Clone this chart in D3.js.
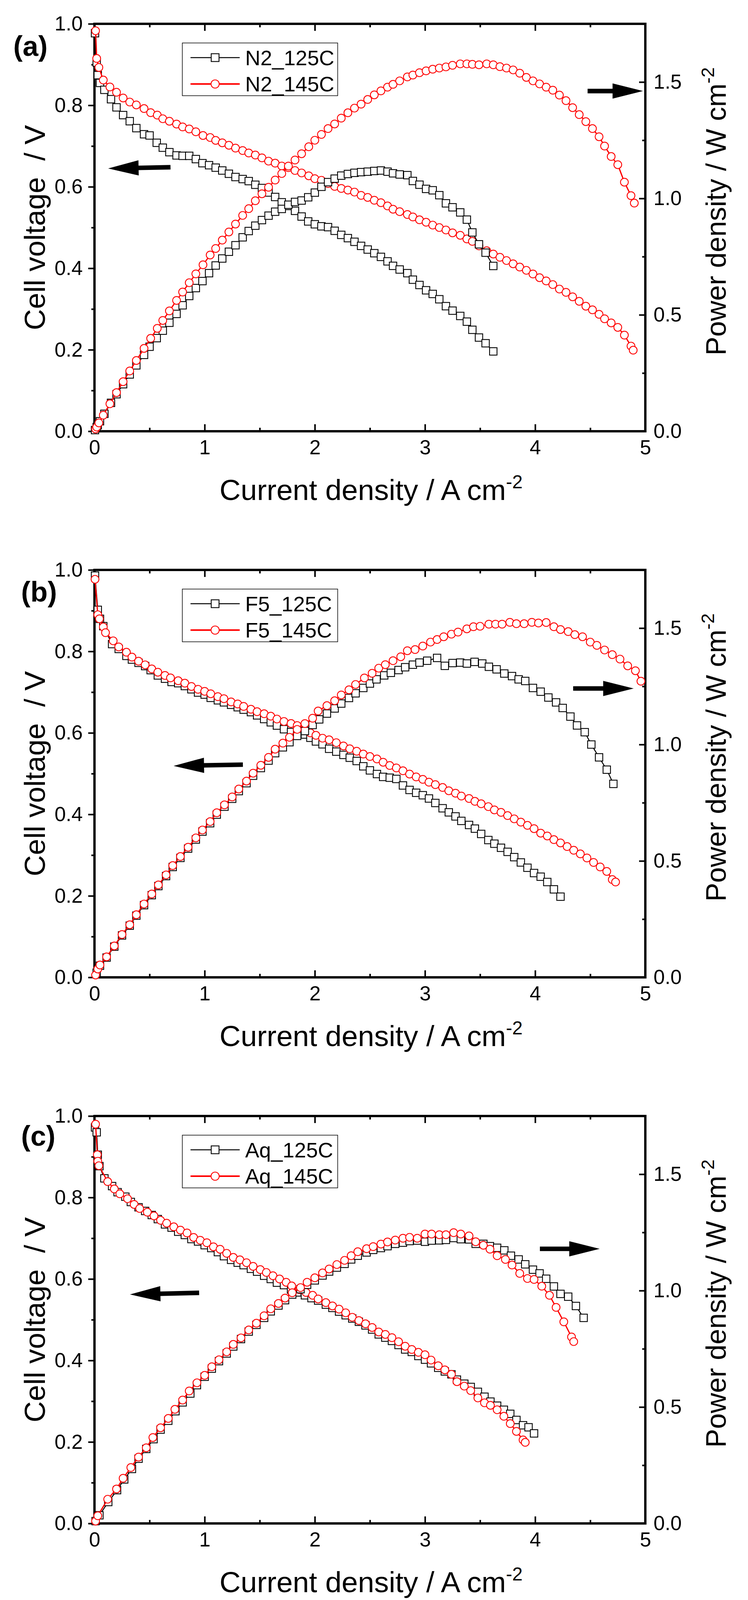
<!DOCTYPE html>
<html><head><meta charset="utf-8">
<script src="https://cdn.jsdelivr.net/npm/d3@7"></script>
<style>
html,body{margin:0;padding:0;background:#fff;}
text{font-family:"Liberation Sans",Arial,Helvetica,sans-serif;}
</style></head>
<body>
<svg id="chart" width="1916" height="4141"></svg>
<script>
// ---------------- DATA ----------------
const xTicks = [0, 1, 2, 3, 4, 5];
const xMinorTicks = [0.5, 1.5, 2.5, 3.5, 4.5];
const vTicks = [0.0, 0.2, 0.4, 0.6, 0.8, 1.0];
const vMinorTicks = [0.1, 0.3, 0.5, 0.7, 0.9];
const pTicks = [0.0, 0.5, 1.0, 1.5];
const pMinorTicks = [0.25, 0.75, 1.25];
const panelLabels = ["(a)", "(b)", "(c)"];
const seriesNamesA = ["N2_125C", "N2_145C"];
const seriesNamesB = ["F5_125C", "F5_145C"];
const seriesNamesC = ["Aq_125C", "Aq_145C"];
const xTitle = "Current density / A cm";
const vTitle = "Cell voltage  / V";
const pTitle = "Power density / W cm";

// panel (a)  [current density, cell voltage]  /  [current density, power density]
const N2_125C_V = [[0.005,0.977],[0.02,0.905],[0.03,0.874],[0.05,0.855],[0.09,0.838],[0.15,0.815],[0.20,0.795],[0.26,0.776],[0.32,0.761],[0.38,0.744],[0.45,0.729],[0.50,0.726],[0.565,0.708],[0.62,0.696],[0.68,0.685],[0.745,0.677],[0.80,0.676],[0.86,0.676],[0.92,0.668],[0.98,0.658],[1.04,0.653],[1.10,0.647],[1.16,0.640],[1.22,0.632],[1.28,0.624],[1.345,0.619],[1.40,0.614],[1.46,0.605],[1.52,0.597],[1.58,0.586],[1.64,0.575],[1.70,0.562],[1.76,0.553],[1.82,0.541],[1.88,0.527],[1.94,0.515],[2.00,0.508],[2.06,0.503],[2.12,0.501],[2.18,0.492],[2.24,0.482],[2.30,0.474],[2.36,0.465],[2.42,0.455],[2.48,0.446],[2.54,0.437],[2.60,0.428],[2.66,0.417],[2.71,0.406],[2.77,0.397],[2.84,0.388],[2.89,0.372],[2.95,0.359],[3.01,0.346],[3.07,0.337],[3.13,0.324],[3.19,0.307],[3.25,0.296],[3.32,0.283],[3.38,0.269],[3.43,0.249],[3.49,0.230],[3.55,0.216],[3.62,0.196]];
const N2_125C_P = [[0.005,0.005],[0.02,0.018],[0.03,0.026],[0.05,0.043],[0.09,0.075],[0.15,0.122],[0.20,0.159],[0.26,0.202],[0.32,0.244],[0.38,0.283],[0.45,0.328],[0.50,0.363],[0.565,0.400],[0.62,0.432],[0.68,0.466],[0.745,0.504],[0.80,0.541],[0.86,0.581],[0.92,0.615],[0.98,0.645],[1.04,0.679],[1.10,0.712],[1.16,0.742],[1.22,0.771],[1.28,0.799],[1.345,0.833],[1.40,0.860],[1.46,0.883],[1.52,0.907],[1.58,0.926],[1.64,0.943],[1.70,0.955],[1.76,0.973],[1.82,0.985],[1.88,0.991],[1.94,1.005],[2.00,1.025],[2.06,1.050],[2.12,1.070],[2.18,1.085],[2.24,1.098],[2.30,1.105],[2.36,1.110],[2.42,1.113],[2.48,1.115],[2.54,1.118],[2.60,1.120],[2.66,1.115],[2.71,1.108],[2.77,1.103],[2.84,1.100],[2.89,1.075],[2.95,1.059],[3.01,1.041],[3.07,1.035],[3.13,1.014],[3.19,0.979],[3.25,0.962],[3.32,0.940],[3.38,0.909],[3.43,0.854],[3.49,0.803],[3.55,0.767],[3.62,0.710]];
const N2_145C_V = [[0.01,0.983],[0.02,0.915],[0.04,0.893],[0.08,0.862],[0.14,0.845],[0.20,0.832],[0.26,0.818],[0.32,0.808],[0.38,0.801],[0.45,0.792],[0.51,0.782],[0.57,0.776],[0.62,0.767],[0.68,0.761],[0.745,0.754],[0.80,0.747],[0.86,0.742],[0.92,0.735],[0.985,0.726],[1.05,0.721],[1.10,0.714],[1.16,0.708],[1.22,0.702],[1.28,0.695],[1.345,0.689],[1.40,0.683],[1.46,0.678],[1.52,0.671],[1.58,0.663],[1.64,0.658],[1.70,0.651],[1.76,0.647],[1.82,0.640],[1.88,0.634],[1.945,0.627],[2.00,0.620],[2.06,0.616],[2.12,0.608],[2.18,0.601],[2.24,0.596],[2.30,0.592],[2.36,0.587],[2.42,0.579],[2.48,0.574],[2.54,0.567],[2.60,0.561],[2.66,0.553],[2.71,0.545],[2.77,0.539],[2.84,0.532],[2.89,0.526],[2.95,0.519],[3.01,0.513],[3.07,0.506],[3.13,0.500],[3.19,0.494],[3.25,0.487],[3.32,0.481],[3.38,0.472],[3.43,0.466],[3.49,0.455],[3.56,0.443],[3.62,0.435],[3.68,0.427],[3.74,0.419],[3.80,0.411],[3.86,0.403],[3.92,0.395],[3.98,0.386],[4.04,0.377],[4.10,0.369],[4.16,0.360],[4.22,0.349],[4.28,0.341],[4.34,0.330],[4.40,0.319],[4.46,0.307],[4.52,0.298],[4.58,0.287],[4.63,0.276],[4.69,0.266],[4.75,0.255],[4.81,0.236],[4.87,0.209],[4.89,0.199]];
const N2_145C_P = [[0.01,0.010],[0.02,0.018],[0.04,0.036],[0.08,0.069],[0.14,0.118],[0.20,0.166],[0.26,0.213],[0.32,0.259],[0.38,0.304],[0.45,0.356],[0.51,0.399],[0.57,0.442],[0.62,0.476],[0.68,0.517],[0.745,0.562],[0.80,0.598],[0.86,0.638],[0.92,0.676],[0.985,0.715],[1.05,0.757],[1.10,0.785],[1.16,0.821],[1.22,0.856],[1.28,0.890],[1.345,0.927],[1.40,0.956],[1.46,0.990],[1.52,1.020],[1.58,1.048],[1.64,1.079],[1.70,1.107],[1.76,1.139],[1.82,1.165],[1.88,1.192],[1.945,1.222],[2.00,1.250],[2.06,1.275],[2.12,1.300],[2.18,1.320],[2.24,1.345],[2.30,1.368],[2.36,1.388],[2.42,1.405],[2.48,1.425],[2.54,1.445],[2.60,1.462],[2.66,1.478],[2.71,1.490],[2.77,1.505],[2.84,1.522],[2.89,1.530],[2.95,1.540],[3.01,1.548],[3.07,1.555],[3.13,1.560],[3.19,1.565],[3.25,1.572],[3.32,1.578],[3.38,1.578],[3.43,1.576],[3.49,1.574],[3.56,1.578],[3.62,1.574],[3.68,1.566],[3.74,1.560],[3.80,1.552],[3.86,1.538],[3.92,1.520],[3.98,1.505],[4.04,1.492],[4.10,1.478],[4.16,1.465],[4.22,1.444],[4.28,1.420],[4.34,1.390],[4.40,1.360],[4.46,1.330],[4.52,1.300],[4.58,1.265],[4.63,1.225],[4.69,1.180],[4.75,1.145],[4.81,1.070],[4.87,1.012],[4.90,0.980]];

// panel (b)
const F5_125C_V = [[0.005,0.986],[0.03,0.902],[0.05,0.880],[0.08,0.862],[0.16,0.818],[0.22,0.806],[0.29,0.789],[0.34,0.780],[0.40,0.772],[0.46,0.764],[0.51,0.754],[0.575,0.741],[0.64,0.733],[0.70,0.725],[0.76,0.722],[0.82,0.715],[0.88,0.707],[0.94,0.699],[1.00,0.694],[1.055,0.686],[1.12,0.680],[1.175,0.675],[1.24,0.669],[1.30,0.663],[1.354,0.657],[1.42,0.651],[1.476,0.643],[1.54,0.634],[1.60,0.626],[1.656,0.618],[1.72,0.609],[1.784,0.602],[1.84,0.600],[1.91,0.596],[1.96,0.588],[2.01,0.579],[2.07,0.572],[2.13,0.561],[2.195,0.554],[2.26,0.546],[2.317,0.539],[2.38,0.531],[2.44,0.518],[2.50,0.508],[2.564,0.499],[2.62,0.492],[2.68,0.490],[2.74,0.487],[2.80,0.471],[2.86,0.460],[2.92,0.453],[2.98,0.447],[3.036,0.439],[3.094,0.428],[3.16,0.415],[3.216,0.405],[3.277,0.395],[3.33,0.384],[3.40,0.374],[3.453,0.365],[3.51,0.352],[3.575,0.337],[3.63,0.328],[3.69,0.318],[3.75,0.308],[3.81,0.295],[3.87,0.282],[3.93,0.269],[3.99,0.256],[4.05,0.247],[4.11,0.234],[4.17,0.216],[4.23,0.198]];
const F5_125C_P = [[0.02,0.020],[0.05,0.050],[0.11,0.085],[0.18,0.132],[0.25,0.180],[0.32,0.222],[0.38,0.265],[0.45,0.310],[0.52,0.353],[0.58,0.392],[0.65,0.435],[0.71,0.474],[0.78,0.513],[0.85,0.553],[0.92,0.592],[0.98,0.626],[1.05,0.662],[1.11,0.699],[1.18,0.733],[1.25,0.767],[1.31,0.800],[1.38,0.834],[1.44,0.866],[1.51,0.899],[1.58,0.931],[1.64,0.963],[1.71,0.988],[1.77,1.010],[1.84,1.037],[1.91,1.058],[1.98,1.084],[2.04,1.108],[2.11,1.133],[2.18,1.155],[2.24,1.176],[2.31,1.200],[2.37,1.220],[2.44,1.243],[2.50,1.262],[2.56,1.280],[2.63,1.297],[2.69,1.308],[2.76,1.320],[2.82,1.332],[2.89,1.343],[2.95,1.352],[3.02,1.360],[3.11,1.372],[3.18,1.338],[3.25,1.350],[3.32,1.352],[3.38,1.348],[3.45,1.355],[3.52,1.348],[3.58,1.334],[3.65,1.323],[3.72,1.305],[3.79,1.294],[3.85,1.280],[3.91,1.273],[3.98,1.243],[4.05,1.227],[4.12,1.202],[4.19,1.181],[4.25,1.157],[4.32,1.120],[4.38,1.082],[4.45,1.053],[4.51,1.000],[4.58,0.945],[4.65,0.892],[4.71,0.831]];
const F5_145C_V = [[0.005,0.977],[0.03,0.890],[0.045,0.880],[0.08,0.860],[0.10,0.846],[0.17,0.826],[0.22,0.811],[0.29,0.798],[0.34,0.786],[0.40,0.776],[0.46,0.767],[0.52,0.757],[0.575,0.749],[0.64,0.741],[0.69,0.735],[0.76,0.728],[0.82,0.722],[0.88,0.714],[0.94,0.707],[1.00,0.702],[1.055,0.696],[1.12,0.689],[1.175,0.684],[1.24,0.676],[1.30,0.671],[1.354,0.665],[1.42,0.658],[1.476,0.652],[1.54,0.647],[1.60,0.641],[1.656,0.634],[1.72,0.628],[1.784,0.623],[1.84,0.618],[1.90,0.612],[1.96,0.600],[2.01,0.594],[2.07,0.587],[2.13,0.583],[2.195,0.576],[2.26,0.568],[2.317,0.561],[2.38,0.555],[2.44,0.548],[2.50,0.542],[2.564,0.536],[2.62,0.528],[2.68,0.520],[2.74,0.514],[2.80,0.507],[2.86,0.499],[2.92,0.492],[2.98,0.486],[3.036,0.479],[3.094,0.473],[3.16,0.466],[3.216,0.458],[3.277,0.452],[3.33,0.445],[3.40,0.439],[3.453,0.432],[3.51,0.426],[3.575,0.419],[3.63,0.411],[3.69,0.405],[3.75,0.397],[3.81,0.389],[3.87,0.381],[3.93,0.373],[3.99,0.365],[4.05,0.354],[4.11,0.347],[4.17,0.338],[4.23,0.330],[4.29,0.321],[4.35,0.312],[4.41,0.303],[4.47,0.293],[4.53,0.282],[4.59,0.271],[4.65,0.260],[4.70,0.240],[4.73,0.234]];
const F5_145C_P = [[0.01,0.010],[0.03,0.036],[0.05,0.053],[0.11,0.088],[0.18,0.135],[0.25,0.184],[0.32,0.226],[0.38,0.269],[0.45,0.315],[0.52,0.358],[0.58,0.397],[0.65,0.440],[0.71,0.480],[0.78,0.519],[0.85,0.559],[0.92,0.599],[0.98,0.633],[1.05,0.669],[1.11,0.707],[1.18,0.741],[1.25,0.775],[1.31,0.809],[1.38,0.843],[1.44,0.877],[1.51,0.911],[1.58,0.945],[1.64,0.980],[1.71,1.006],[1.77,1.031],[1.84,1.065],[1.91,1.090],[1.98,1.113],[2.03,1.144],[2.11,1.167],[2.18,1.188],[2.24,1.213],[2.31,1.235],[2.37,1.258],[2.45,1.286],[2.52,1.306],[2.58,1.328],[2.64,1.343],[2.71,1.360],[2.78,1.377],[2.84,1.403],[2.91,1.408],[2.98,1.423],[3.05,1.440],[3.11,1.451],[3.17,1.463],[3.24,1.474],[3.30,1.483],[3.38,1.497],[3.44,1.506],[3.50,1.508],[3.58,1.517],[3.64,1.517],[3.70,1.517],[3.77,1.525],[3.83,1.519],[3.90,1.519],[3.97,1.525],[4.03,1.522],[4.10,1.524],[4.17,1.506],[4.23,1.494],[4.30,1.485],[4.36,1.472],[4.43,1.463],[4.50,1.440],[4.56,1.426],[4.63,1.406],[4.70,1.386],[4.77,1.367],[4.84,1.338],[4.91,1.317],[4.96,1.272]];

// panel (c)
const Aq_125C_V = [[0.005,0.972],[0.02,0.960],[0.03,0.905],[0.045,0.877],[0.09,0.847],[0.16,0.828],[0.21,0.813],[0.28,0.802],[0.33,0.789],[0.40,0.776],[0.46,0.767],[0.52,0.757],[0.575,0.747],[0.64,0.734],[0.70,0.726],[0.76,0.716],[0.82,0.708],[0.88,0.698],[0.94,0.692],[1.00,0.683],[1.06,0.676],[1.12,0.666],[1.175,0.656],[1.24,0.647],[1.30,0.640],[1.354,0.634],[1.42,0.625],[1.476,0.618],[1.54,0.608],[1.60,0.600],[1.656,0.591],[1.72,0.585],[1.784,0.574],[1.84,0.567],[1.91,0.560],[1.97,0.553],[2.03,0.547],[2.10,0.537],[2.16,0.529],[2.22,0.520],[2.28,0.511],[2.34,0.503],[2.40,0.495],[2.46,0.486],[2.52,0.476],[2.58,0.464],[2.64,0.456],[2.70,0.448],[2.76,0.438],[2.82,0.427],[2.88,0.421],[2.94,0.411],[3.00,0.402],[3.055,0.393],[3.12,0.382],[3.18,0.373],[3.24,0.366],[3.29,0.353],[3.357,0.343],[3.415,0.335],[3.48,0.323],[3.54,0.311],[3.594,0.299],[3.655,0.289],[3.716,0.279],[3.774,0.269],[3.83,0.254],[3.89,0.241],[3.94,0.236],[3.99,0.221]];
const Aq_125C_P = [[0.01,0.010],[0.045,0.035],[0.125,0.092],[0.205,0.143],[0.27,0.189],[0.34,0.234],[0.40,0.278],[0.47,0.320],[0.536,0.362],[0.60,0.403],[0.67,0.441],[0.735,0.482],[0.80,0.520],[0.87,0.558],[0.93,0.594],[1.00,0.630],[1.065,0.665],[1.13,0.697],[1.20,0.730],[1.26,0.760],[1.33,0.792],[1.40,0.824],[1.47,0.853],[1.54,0.883],[1.60,0.911],[1.67,0.936],[1.73,0.959],[1.795,0.983],[1.87,1.006],[1.93,1.025],[2.00,1.044],[2.07,1.065],[2.13,1.082],[2.20,1.099],[2.27,1.115],[2.33,1.134],[2.39,1.150],[2.47,1.164],[2.53,1.175],[2.60,1.183],[2.66,1.191],[2.73,1.201],[2.80,1.206],[2.86,1.213],[2.93,1.215],[3.00,1.210],[3.06,1.215],[3.13,1.216],[3.19,1.218],[3.26,1.226],[3.325,1.221],[3.40,1.220],[3.46,1.201],[3.53,1.201],[3.59,1.191],[3.655,1.184],[3.72,1.173],[3.78,1.150],[3.85,1.134],[3.91,1.113],[3.98,1.090],[4.04,1.074],[4.10,1.051],[4.17,1.018],[4.23,0.986],[4.30,0.974],[4.37,0.934],[4.44,0.883]];
const Aq_145C_V = [[0.01,0.980],[0.026,0.905],[0.03,0.889],[0.04,0.878],[0.12,0.839],[0.18,0.821],[0.23,0.809],[0.30,0.797],[0.36,0.783],[0.41,0.773],[0.48,0.764],[0.54,0.755],[0.60,0.744],[0.655,0.737],[0.72,0.728],[0.78,0.720],[0.84,0.713],[0.90,0.702],[0.96,0.695],[1.02,0.689],[1.08,0.679],[1.14,0.673],[1.20,0.663],[1.26,0.653],[1.32,0.647],[1.38,0.640],[1.44,0.631],[1.505,0.623],[1.56,0.616],[1.62,0.608],[1.68,0.600],[1.74,0.592],[1.79,0.583],[1.86,0.574],[1.92,0.567],[1.98,0.560],[2.03,0.551],[2.10,0.542],[2.16,0.534],[2.22,0.526],[2.28,0.517],[2.34,0.506],[2.40,0.498],[2.46,0.490],[2.52,0.481],[2.58,0.470],[2.64,0.464],[2.70,0.456],[2.76,0.446],[2.82,0.435],[2.88,0.427],[2.94,0.420],[3.00,0.414],[3.055,0.401],[3.12,0.387],[3.18,0.377],[3.24,0.366],[3.29,0.348],[3.357,0.337],[3.415,0.326],[3.48,0.308],[3.54,0.296],[3.594,0.290],[3.655,0.279],[3.716,0.263],[3.774,0.245],[3.83,0.226],[3.89,0.205],[3.91,0.199]];
const Aq_145C_P = [[0.01,0.010],[0.03,0.033],[0.12,0.104],[0.20,0.148],[0.26,0.194],[0.33,0.240],[0.40,0.285],[0.47,0.325],[0.53,0.369],[0.60,0.411],[0.67,0.451],[0.73,0.490],[0.80,0.530],[0.86,0.569],[0.93,0.604],[1.00,0.636],[1.065,0.673],[1.13,0.703],[1.20,0.737],[1.26,0.769],[1.33,0.797],[1.40,0.831],[1.47,0.860],[1.54,0.892],[1.60,0.922],[1.67,0.945],[1.73,0.968],[1.795,0.991],[1.87,1.013],[1.93,1.036],[2.00,1.055],[2.07,1.076],[2.13,1.093],[2.20,1.112],[2.27,1.130],[2.33,1.150],[2.39,1.167],[2.47,1.180],[2.53,1.189],[2.60,1.200],[2.66,1.209],[2.73,1.217],[2.80,1.225],[2.86,1.229],[2.93,1.225],[3.00,1.243],[3.06,1.243],[3.13,1.240],[3.19,1.240],[3.26,1.249],[3.325,1.243],[3.40,1.235],[3.46,1.210],[3.53,1.195],[3.59,1.178],[3.655,1.150],[3.73,1.134],[3.79,1.110],[3.86,1.074],[3.93,1.052],[3.99,1.048],[4.06,1.019],[4.13,0.980],[4.19,0.928],[4.26,0.866],[4.33,0.801],[4.35,0.781]];

// ---------------- LAYOUT ----------------
const W = 1916, H = 4141;
const plotLeft = 242, plotRight = 1653, plotH = 1043;
const panelTops = [61, 1459, 2857];
const labelPos = [[34, 82], [54, 81], [54, 76]];
// arrow annotations in data units: [x tail, v tail, x tip, v tip]
const arrowsA = [[0.69, 0.648, 0.124, 0.645], [4.476, 0.835, 4.979, 0.835]];
const arrowsB = [[1.347, 0.522, 0.718, 0.519], [4.345, 0.709, 4.894, 0.709]];
const arrowsC = [[0.950, 0.566, 0.322, 0.562], [4.043, 0.674, 4.586, 0.674]];

const panels = [
  {names: seriesNamesA, s125V: N2_125C_V, s125P: N2_125C_P, s145V: N2_145C_V, s145P: N2_145C_P, arrows: arrowsA},
  {names: seriesNamesB, s125V: F5_125C_V, s125P: F5_125C_P, s145V: F5_145C_V, s145P: F5_145C_P, arrows: arrowsB},
  {names: seriesNamesC, s125V: Aq_125C_V, s125P: Aq_125C_P, s145V: Aq_145C_V, s145P: Aq_145C_P, arrows: arrowsC}
];

const BLACK = "#000000", RED = "#ff0000";
const svg = d3.select("#chart");
svg.append("rect").attr("width", W).attr("height", H).attr("fill", "#fff");

const x = d3.scaleLinear().domain([0, 5]).range([plotLeft, plotRight]);

function styleAxis(g, fs) {
  g.select(".domain").remove();
  g.selectAll(".tick line").attr("stroke", "#000").attr("stroke-width", 4);
  g.selectAll(".tick text").attr("fill", "#000").style("font-size", fs + "px")
    .style("font-family", '"Liberation Sans", Arial, sans-serif');
}

panels.forEach((p, i) => {
  const top = panelTops[i], bottom = top + plotH;
  const yV = d3.scaleLinear().domain([0, 1]).range([bottom, top]);
  const yP = d3.scaleLinear().domain([0, 1.75]).range([bottom, top]);
  const g = svg.append("g");

  // frame
  g.append("rect").attr("x", plotLeft).attr("y", top)
    .attr("width", plotRight - plotLeft).attr("height", plotH)
    .attr("fill", "none").attr("stroke", "#000").attr("stroke-width", 6);

  // bottom axis
  styleAxis(g.append("g").attr("transform", `translate(0,${bottom})`)
    .call(d3.axisBottom(x).tickValues(xTicks).tickSize(-18).tickPadding(22).tickFormat(d3.format("d"))), 52);
  styleAxis(g.append("g").attr("transform", `translate(0,${bottom})`)
    .call(d3.axisBottom(x).tickValues(xMinorTicks).tickSize(-9).tickFormat("")), 52);
  // top axis
  styleAxis(g.append("g").attr("transform", `translate(0,${top})`)
    .call(d3.axisTop(x).tickValues(xTicks.slice(1, 5)).tickSize(-18).tickFormat("")), 52);
  styleAxis(g.append("g").attr("transform", `translate(0,${top})`)
    .call(d3.axisTop(x).tickValues(xMinorTicks).tickSize(-9).tickFormat("")), 52);
  // left axis
  styleAxis(g.append("g").attr("transform", `translate(${plotLeft},0)`)
    .call(d3.axisLeft(yV).tickValues(vTicks).tickSize(16).tickPadding(14).tickFormat(d3.format(".1f"))), 52);
  styleAxis(g.append("g").attr("transform", `translate(${plotLeft},0)`)
    .call(d3.axisLeft(yV).tickValues(vMinorTicks).tickSize(8).tickFormat("")), 52);
  // right axis
  styleAxis(g.append("g").attr("transform", `translate(${plotRight},0)`)
    .call(d3.axisRight(yP).tickValues(pTicks).tickSize(-16).tickPadding(21).tickFormat(d3.format(".1f"))), 52);
  styleAxis(g.append("g").attr("transform", `translate(${plotRight},0)`)
    .call(d3.axisRight(yP).tickValues(pMinorTicks).tickSize(-8).tickFormat("")), 52);

  // titles
  const xt = g.append("text").attr("x", (plotLeft + plotRight) / 2 + 3).attr("y", bottom + 176)
    .attr("text-anchor", "middle").style("font-size", "75px").text(xTitle);
  xt.append("tspan").attr("dy", -30).style("font-size", "48px").text("-2");

  g.append("text").attr("transform", `translate(115,${(top + bottom) / 2}) rotate(-90)`)
    .attr("text-anchor", "middle").style("font-size", "75px").style("white-space", "pre")
    .attr("xml:space", "preserve").text(vTitle);

  const pt = g.append("text").attr("transform", `translate(1859,${top + 480}) rotate(-90)`)
    .attr("text-anchor", "middle").style("font-size", "72px").text(pTitle);
  pt.append("tspan").attr("dy", -30).style("font-size", "47px").text("-2");

  // panel label
  g.append("text").attr("x", labelPos[i][0]).attr("y", top + labelPos[i][1])
    .style("font-size", "72px").style("font-weight", "bold").text(panelLabels[i]);

  // series
  const drawSeries = (data, yS, color, shape, lw) => {
    const line = d3.line().x(d => x(d[0])).y(d => yS(d[1]));
    g.append("path").datum(data).attr("d", line).attr("fill", "none")
      .attr("stroke", color).attr("stroke-width", lw).attr("stroke-linejoin", "round");
    if (shape === "square") {
      g.append("g").selectAll("rect").data(data).join("rect")
        .attr("x", d => x(d[0]) - 9.5).attr("y", d => yS(d[1]) - 9.5)
        .attr("width", 19).attr("height", 19)
        .attr("fill", "#fff").attr("stroke", color).attr("stroke-width", 2.2);
    } else {
      g.append("g").selectAll("circle").data(data).join("circle")
        .attr("cx", d => x(d[0])).attr("cy", d => yS(d[1])).attr("r", 10)
        .attr("fill", "#fff").attr("stroke", color).attr("stroke-width", 2.2);
    }
  };
  drawSeries(p.s125V, yV, BLACK, "square", 2.5);
  drawSeries(p.s145V, yV, RED, "circle", 3.2);
  drawSeries(p.s125P, yP, BLACK, "square", 2.5);
  drawSeries(p.s145P, yP, RED, "circle", 3.2);

  // arrows
  p.arrows.forEach(a => {
    const x0 = x(a[0]), y0 = yV(a[1]), x1 = x(a[2]), y1 = yV(a[3]);
    const ang = Math.atan2(y1 - y0, x1 - x0);
    const len = Math.hypot(x1 - x0, y1 - y0);
    const headL = 80, headW = 19.5, shaftW = 5.8;
    const ag = g.append("g").attr("transform", `translate(${x0},${y0}) rotate(${ang * 180 / Math.PI})`);
    ag.append("path").attr("fill", "#000")
      .attr("d", `M0,${-shaftW}L${len - headL + 2},${-shaftW}L${len - headL + 2},${-headW}L${len},0L${len - headL + 2},${headW}L${len - headL + 2},${shaftW}L0,${shaftW}Z`);
  });

  // legend
  const lx = 467, ly = top + 49, lw = 398, lh = 135;
  const lg = g.append("g");
  lg.append("rect").attr("x", lx).attr("y", ly).attr("width", lw).attr("height", lh)
    .attr("fill", "#fff").attr("stroke", "#000").attr("stroke-width", 1.5);
  [[BLACK, "square", 2.5, 37.5], [RED, "circle", 4, 105]].forEach((row, k) => {
    const ry = ly + row[3];
    lg.append("line").attr("x1", 488).attr("x2", 614).attr("y1", ry).attr("y2", ry)
      .attr("stroke", row[0]).attr("stroke-width", row[2]);
    if (row[1] === "square") {
      lg.append("rect").attr("x", 551 - 10).attr("y", ry - 10).attr("width", 20).attr("height", 20)
        .attr("fill", "#fff").attr("stroke", row[0]).attr("stroke-width", 2.2);
    } else {
      lg.append("circle").attr("cx", 551).attr("cy", ry).attr("r", 10.5)
        .attr("fill", "#fff").attr("stroke", row[0]).attr("stroke-width", 2.2);
    }
    lg.append("text").attr("x", 628).attr("y", ry + 19).style("font-size", "54px").text(p.names[k]);
  });
});
</script>
</body></html>
